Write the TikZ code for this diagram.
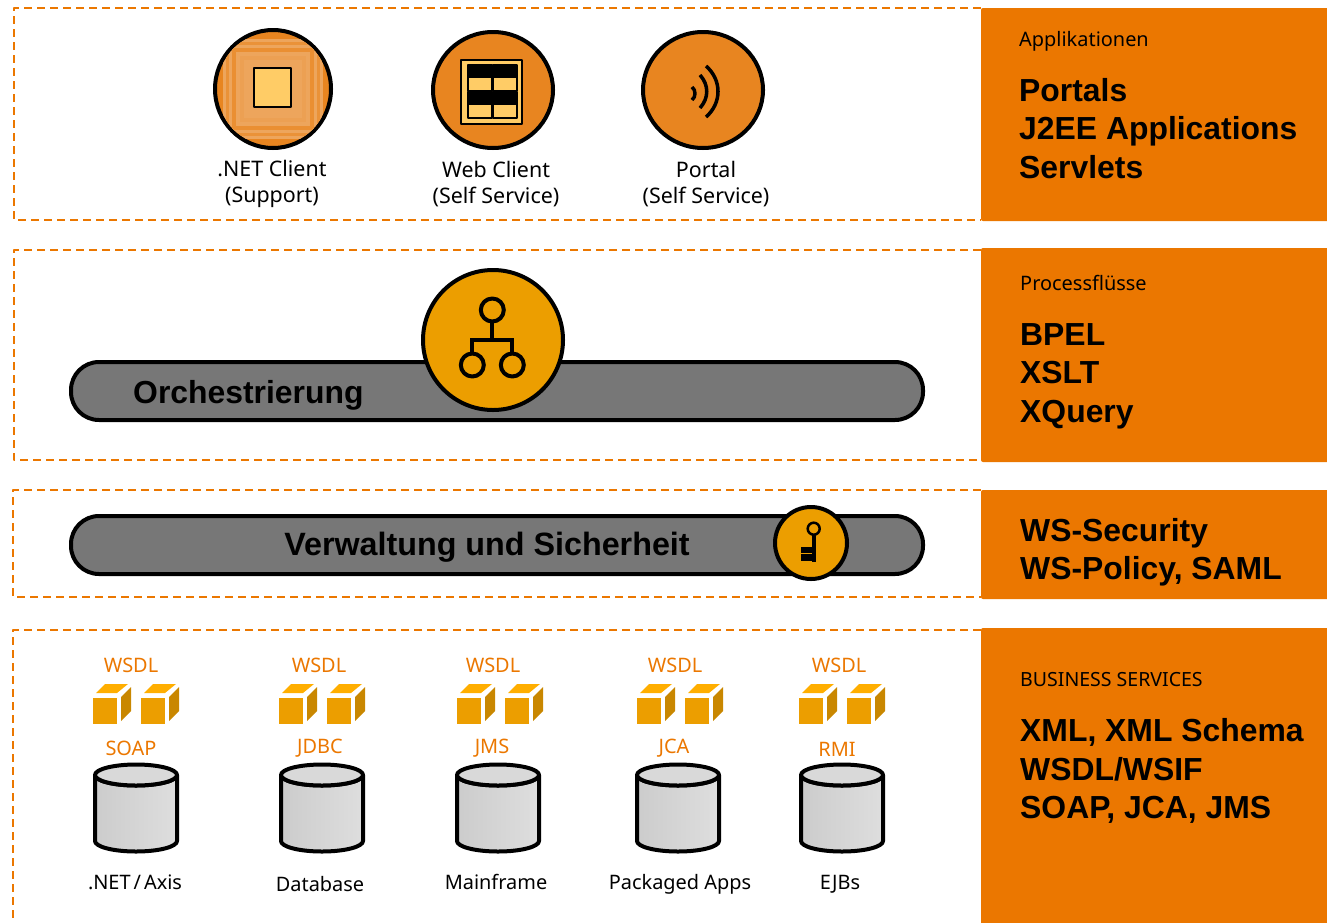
\documentclass[tikz,border=0pt]{standalone}
\usepackage{fontspec}
\setmainfont{Noto Sans}
\newfontfamily\boldarial[BoldFont={Liberation Sans Bold}]{Liberation Sans}
\usepackage{tikz}
\usetikzlibrary{arrows,shapes}
\definecolor{layerorange}{HTML}{EB7700}
\definecolor{clientorange}{HTML}{E88520}
\definecolor{hubamber}{HTML}{EC9E00}
\definecolor{cubetop}{HTML}{FFAE00}
\definecolor{cubeside}{HTML}{C98700}
\definecolor{barcol}{HTML}{777777}
\definecolor{palepane}{HTML}{FFCC66}
\definecolor{ringcol}{HTML}{EDA55C}
\newcommand{\netaxis}{.NET\hspace{3pt}/\hspace{3pt}Axis}

\begin{document}
\begin{tikzpicture}[>=latex,line join=bevel,x=1bp,y=-1bp,
  layerframe/.style={draw=layerorange,line width=1.8bp,dash pattern=on 8bp off 5bp},
  layerbox/.style={fill=layerorange,rounded corners=2bp},
  clientdisc/.style={ellipse,draw=black,line width=4bp,fill=clientorange,minimum width=120bp,minimum height=116bp,inner sep=0},
  hubdisc/.style={circle,draw=black,line width=4bp,fill=hubamber,inner sep=0},
  pillbar/.style={draw=black,line width=4bp,fill=barcol,rounded corners=28bp},
  clienttext/.style={font=\fontsize{21.5}{26}\selectfont,align=center,inner sep=0},
  smalltext/.style={font=\fontsize{20}{26}\selectfont,align=center,inner sep=0},
  wsdltext/.style={font=\fontsize{20}{24}\selectfont,text=layerorange,inner sep=0},
  headtext/.style={font=\fontsize{20}{24}\selectfont,anchor=west,inner sep=0},
  bigtext/.style={font=\boldarial\bfseries\fontsize{32}{38.5}\selectfont,align=left,anchor=west,inner sep=0},
]
  \useasboundingbox (0,0) rectangle (1327,922);
  % Layer frames
  \draw [layerframe] (981,8) -- (14,8) -- (14,220) -- (981,220);
  \draw [layerframe] (981,250) -- (14,250) -- (14,460) -- (981,460);
  \draw [layerframe] (981,490) -- (13,490) -- (13,597) -- (981,597);
  \draw [layerframe] (981,630) -- (13,630) -- (13,922);
  % Layer boxes
  \fill [layerbox] (981,8) rectangle (1340,221);
  \fill [layerbox] (981,248) rectangle (1340,462);
  \fill [layerbox] (981,490) rectangle (1340,599);
  \fill [layerbox] (981,628) rectangle (1340,935);
  % Box texts
  \node (apphead) [headtext] at (1019,41) {Applikationen};
  \node (appbig) [bigtext] at (1019,128.5) {Portals\\J2EE Applications\\Servlets};
  \node (prochead) [headtext] at (1020,283) {Processflüsse};
  \node (procbig) [bigtext] at (1020,376) {BPEL\\XSLT\\XQuery};
  \node (secbig) [bigtext] at (1020,552) {WS-Security\\WS-Policy, SAML};
  \node (bushead) [font=\fontsize{19.6}{24}\selectfont,anchor=west,inner sep=0] at (1020,680) {BUSINESS SERVICES};
  \node (busbig) [bigtext] at (1020,771) {XML, XML Schema\\WSDL/WSIF\\SOAP, JCA, JMS};
  % Node: .NET client
  \node (netclient) [clientdisc,minimum width=116bp,minimum height=118bp] at (273,89) {};
  \begin{scope}
    \clip (273,89) ellipse (56bp and 57bp);
    \foreach \rr/\cc in {50/ringcol,47/clientorange!60!ringcol,44/ringcol,41/clientorange!70!ringcol,37/ringcol,33/ringcol!85!clientorange,29/ringcol}
      \fill [\cc] (273-\rr,89-\rr) rectangle (273+\rr,89+\rr);
  \end{scope}
  \draw [line width=2bp,fill=palepane] (254,68) rectangle (291,107);
  \node (netlabel) [clienttext] at (272,184) {.NET Client\\(Support)};
  % Node: web client
  \node (webclient) [clientdisc] at (493,90) {};
  \draw [line width=2bp,fill=palepane] (461,60) rectangle (522,124);
  \foreach \px in {468,493}
    \foreach \py in {65,92} {
      \draw [line width=1.5bp,fill=palepane] (\px,\py) rectangle (\px+24,\py+26);
      \fill (\px,\py) rectangle (\px+24,\py+13);
    }
  \node (weblabel) [clienttext] at (496,184.5) {Web Client\\(Self Service)};
  % Node: portal
  \node (portal) [clientdisc] at (703,90) {};
  \draw [line width=3.5bp] (692,87) .. controls (696,90) and (696,97) .. (692,100);
  \draw [line width=3.5bp] (700,75) .. controls (709,85) and (709,98) .. (700,108);
  \draw [line width=3.5bp] (706,66) .. controls (722,80) and (722,103) .. (706,117);
  \node (portallabel) [clienttext] at (706,184.5) {Portal\\(Self Service)};
  % Orchestration bar
  \draw [pillbar] (71,362) rectangle (923,420);
  \node (orchtext) [bigtext] at (133,395) {Orchestrierung};
  \node (orchhub) [hubdisc,minimum size=140bp] at (493,340) {};
  \draw [line width=4bp] (492.3,310) circle (11.5bp);
  \draw [line width=4bp] (492.3,322) -- (492.3,339.5);
  \draw [line width=4bp,line join=miter] (472.3,354) -- (472.3,339.5) -- (512.3,339.5) -- (512.3,354);
  \draw [line width=4bp] (472.3,365) circle (11.5bp);
  \draw [line width=4bp] (512.3,365) circle (11.5bp);
  % Security bar
  \draw [pillbar] (71,516) rectangle (923,574);
  \node (sectext) [bigtext,anchor=center,font=\boldarial\bfseries\fontsize{32.4}{38.5}\selectfont] at (487,547) {Verwaltung und Sicherheit};
  \node (keyhub) [hubdisc,minimum size=72bp] at (811,543) {};
  \draw [line width=2.5bp] (813.7,528.7) circle (6bp);
  \fill (812,535) rectangle (816,561.5);
  \fill (801,546.5) rectangle (812,552.5);
  \fill (801,554) rectangle (812,561);
  % Back-end columns
  \foreach \cx/\cyl/\wx/\px/\py/\proto/\lx/\ly/\lab in {
      93/136/131/131/748/SOAP/135/882/\netaxis,
      279/322/319/320/748/JDBC/320/884/Database,
      457/498/493/492/748/JMS/496/882/Mainframe,
      637/678/675/674/748/JCA/680/884/Packaged Apps,
      799/842/839/837/749/RMI/840/884/EJBs} {
    \node (wsdl\cx) [wsdltext] at (\wx,665) {WSDL};
    \foreach \off in {0,48} {
      \fill [hubamber] (\cx+\off,698) rectangle (\cx+\off+24,724);
      \fill [cubetop] (\cx+\off+3,693) -- (\cx+\off+12,684) -- (\cx+\off+35,684) -- (\cx+\off+24,693) -- cycle;
      \fill [cubeside] (\cx+\off+28,697) -- (\cx+\off+38,687) -- (\cx+\off+38,711) -- (\cx+\off+28,721) -- cycle;
    }
    \node (proto\cx) [wsdltext] at (\px,\py) {\proto};
    % Cylinder
    \draw [line width=4bp,left color=black!20,right color=black!13]
      (\cyl-41,775) -- (\cyl-41,841) arc [start angle=180,end angle=360,x radius=41bp,y radius=10.5bp]
      -- (\cyl+41,775) arc [start angle=0,end angle=-180,x radius=41bp,y radius=10.5bp] -- cycle;
    \draw [line width=4bp,fill=black!15] (\cyl,775) ellipse (41bp and 10.5bp);
    \node (store\cx) [smalltext] at (\lx,\ly) {\lab};
  }
\end{tikzpicture}
\end{document}
